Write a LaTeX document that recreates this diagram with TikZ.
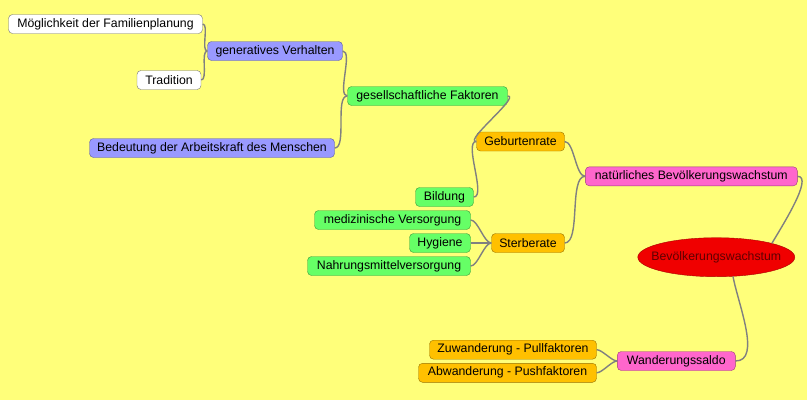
\documentclass[tikz,border=0pt]{standalone}
\usepackage{fontspec}
\setmainfont{Liberation Sans}
\usepackage{tikz}
\usetikzlibrary{shapes.geometric,arrows}

\definecolor{bgyellow}{RGB}{255,255,122}
\definecolor{mmblue}{RGB}{153,153,255}
\definecolor{mmgreen}{RGB}{102,255,102}
\definecolor{mmorange}{RGB}{255,192,0}
\definecolor{mmpink}{RGB}{255,102,204}
\definecolor{mmred}{RGB}{240,0,0}
\definecolor{mmtext}{RGB}{95,0,0}
\definecolor{linkgray}{RGB}{128,128,128}

\tikzstyle{topic} = [draw, rounded corners=4pt, minimum height=19pt, inner sep=0pt, text centered, font=\fontsize{12.3}{14}\selectfont]
\tikzstyle{plain} = [topic, fill=white, draw=black!55]
\tikzstyle{blue} = [topic, fill=mmblue, draw=mmblue!60!black]
\tikzstyle{green} = [topic, fill=mmgreen, draw=mmgreen!60!black]
\tikzstyle{orange} = [topic, fill=mmorange, draw=mmorange!60!black]
\tikzstyle{pink} = [topic, fill=mmpink, draw=mmpink!60!black]
\tikzstyle{center} = [ellipse, draw=mmred!70!black, fill=mmred, text=mmtext, inner xsep=-10.5pt, inner ysep=7pt, minimum width=157pt, minimum height=39pt, font=\fontsize{12.3}{14}\selectfont]
\tikzstyle{link} = [draw=linkgray, line width=1.4pt, looseness=0.6]

\begin{document}
\begin{tikzpicture}[x=1pt,y=-1pt]
  % Background
  \fill[bgyellow] (0,0) rectangle (807,400);
  \useasboundingbox (0,0) rectangle (807,400);

  % Nodes
  \node[plain, minimum width=194pt] (mogl) at (105.5,24) {Möglichkeit der Familienplanung};
  \node[blue, minimum width=135pt] (gen) at (275,51) {generatives Verhalten};
  \node[plain, minimum width=64pt] (trad) at (169,80) {Tradition};
  \node[blue, minimum width=245pt] (bed) at (212,148) {Bedeutung der Arbeitskraft des Menschen};
  \node[green, minimum width=160pt] (ges) at (427.5,96) {gesellschaftliche Faktoren};
  \node[orange, minimum width=88pt] (geb) at (520.5,141.5) {Geburtenrate};
  \node[green, minimum width=58pt] (bil) at (444.5,197) {Bildung};
  \node[green, minimum width=156pt] (med) at (392.5,220) {medizinische Versorgung};
  \node[green, minimum width=61pt] (hyg) at (440,243) {Hygiene};
  \node[green, minimum width=163pt] (nahr) at (389,266) {Nahrungsmittelversorgung};
  \node[orange, minimum width=73pt] (ster) at (528,243) {Sterberate};
  \node[pink, minimum width=212pt] (nat) at (691.3,176.3) {natürliches Bevölkerungswachstum};
  \node[center] (bw) at (716.3,257.2) {Bevölkerungswachstum};
  \node[pink, minimum width=118pt] (ws) at (676.3,361) {Wanderungssaldo};
  \node[orange, minimum width=167pt] (zu) at (513,349.7) {Zuwanderung - Pullfaktoren};
  \node[orange, minimum width=178pt] (ab) at (507.5,372.8) {Abwanderung - Pushfaktoren};

  % Links
  \foreach \from/\to in {mogl/gen, trad/gen, gen/ges, bed/ges, ges/geb, bil/geb,
                         med/ster, hyg/ster, nahr/ster, geb/nat, ster/nat, zu/ws, ab/ws}
    \draw[link] (\from.east) to[out=0,in=180] (\to.west);
  \draw[link] (nat.east) to[out=0,in=60] (bw.north east);
  \draw[link] (bw.-49) to[out=-80,in=0,looseness=0.8] (ws.east);
\end{tikzpicture}
\end{document}
